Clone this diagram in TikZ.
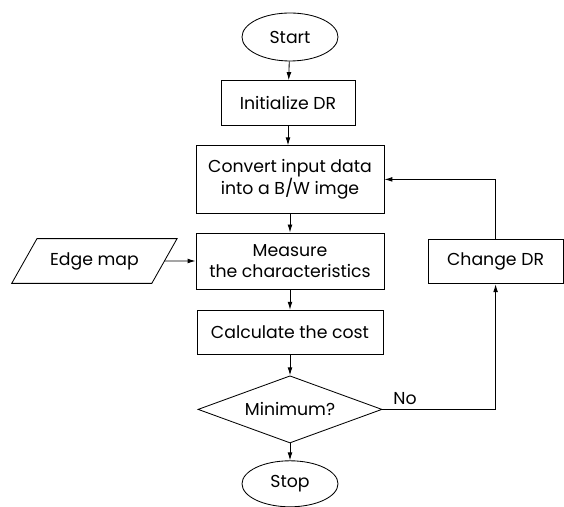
\documentclass[tikz,border=0pt]{standalone}
\usepackage{fontspec}
\setmainfont{Poppins}
\usetikzlibrary{arrows.meta,positioning,shapes.geometric}
\tikzset{
  box/.style={draw=black,fill=white,align=center,inner sep=2pt,line width=0.6pt,font=\fontsize{12.3}{14.5}\selectfont},
  stepbox/.style={box,minimum height=1.1cm},
  term/.style={box,ellipse,minimum width=2.4cm,minimum height=1.2cm},
  cond/.style={box,diamond,aspect=2.7,inner sep=0pt,minimum width=4.6cm,minimum height=1.68cm},
  io/.style={box,trapezium,trapezium left angle=48,trapezium right angle=132,trapezium stretches=true,minimum width=4.15cm,minimum height=1.12cm},
  ar/.style={-{Latex[length=2mm,width=1.2mm]},draw=black,line width=0.6pt},
}
\begin{document}
\begin{tikzpicture}
  \useasboundingbox (0,0) rectangle (14.1,12.675);
  \node[term](start) at (7.25,11.75){Start};
  \node[stepbox,minimum width=3.35cm,minimum height=1.12cm](init) at (7.2,10.1){Initialize DR};
  \node[stepbox,minimum width=4.7cm,minimum height=1.68cm](conv) at (7.25,8.19){Convert input data\\into a B/W imge};
  \node[stepbox,minimum width=4.7cm,minimum height=1.4cm](meas) at (7.25,6.15){Measure\\the characteristics};
  \node[stepbox,minimum width=4.65cm](calc) at (7.25,4.37){Calculate the cost};
  \node[cond](dec) at (7.25,2.44){Minimum?};
  \node[term,minimum height=1.15cm](stop) at (7.25,0.58){Stop};
  \node[io](edge) at (2.36,6.15){Edge map};
  \node[stepbox,minimum width=3.37cm](chg) at (12.39,6.13){Change DR};
  \draw[ar] (start)--(init);
  \draw[ar] (init)--(init|-conv.north);
  \draw[ar] (conv)--(meas);
  \draw[ar] (edge)--(meas);
  \draw[ar] (meas)--(calc);
  \draw[ar] (calc)--(dec);
  \draw[ar] (dec)--(stop);
  \draw[ar] (dec.east)-|node[pos=0.1,above,font=\fontsize{12.3}{14.5}\selectfont]{No}(chg.south);
  \draw[ar] (chg.north)|-(conv.east);
\end{tikzpicture}
\end{document}
